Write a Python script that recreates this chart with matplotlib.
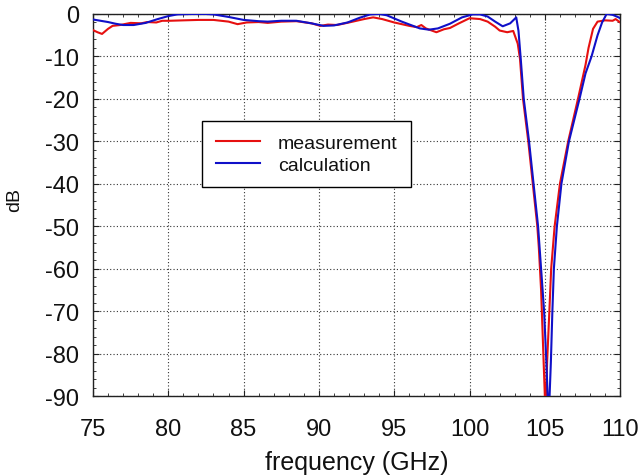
import matplotlib
matplotlib.use("Agg")
import matplotlib.pyplot as plt
from matplotlib.ticker import MultipleLocator

plt.rcParams['font.family'] = ['Liberation Sans', 'DejaVu Sans']
plt.rcParams['axes.unicode_minus'] = False

# Measured transmission (GHz, dB)
meas_freq = [75.0, 75.3, 75.6, 76.0, 76.3, 76.8, 77.5, 78.2, 78.6, 79.2, 79.6, 80.1,
             81.0, 82.0, 83.0, 84.0, 84.6, 85.2, 86.0, 86.6, 87.5, 88.5, 89.5, 90.1,
             90.6, 91.2, 92.0, 93.0, 93.6, 94.2, 95.0, 96.0, 96.5, 96.8, 97.1, 97.8,
             98.3, 98.7, 99.3, 100.0, 100.7, 101.2, 101.7, 102.0, 102.5, 102.9, 103.2,
             103.35, 103.55, 103.9, 104.2, 104.5, 104.6, 104.75, 104.85, 104.95, 105.05,
             105.15, 105.3, 105.42, 105.65, 106.0, 106.55, 107.2, 107.7, 107.9, 108.2,
             108.5, 109.0, 109.5, 109.7, 110.0]
meas_db = [-3.8, -4.3, -4.7, -3.5, -2.8, -2.6, -2.1, -2.2, -1.9, -2.0, -1.6, -1.6,
           -1.5, -1.4, -1.4, -1.8, -2.4, -2.0, -1.9, -2.1, -1.8, -1.7, -2.2, -2.8,
           -2.5, -2.6, -2.0, -1.2, -0.8, -1.2, -2.0, -2.8, -3.1, -2.6, -3.4, -4.3,
           -3.6, -3.3, -2.2, -1.0, -1.2, -1.8, -3.0, -3.9, -4.3, -4.0, -7.0,
           -10.6, -20.0, -30.0, -40.0, -50.0, -55.0, -65.0, -75.0, -85.0, -95.0,
           -82.0, -70.0, -60.0, -50.0, -40.0, -30.0, -20.0, -12.0, -8.0, -3.5,
           -1.8, -1.5, -1.6, -1.2, -2.0]

# Calculated transmission (GHz, dB)
calc_freq = [75.0, 75.5, 76.0, 76.5, 77.0, 77.7, 78.5, 79.3, 80.0, 80.6, 81.5, 82.5,
             83.0, 84.0, 85.0, 86.0, 86.6, 87.5, 88.5, 89.5, 90.3, 91.0, 91.9, 92.7,
             93.4, 94.0, 94.5, 95.5, 96.7, 97.3, 97.9, 98.7, 99.5, 100.2, 100.7, 101.2,
             101.7, 102.2, 102.7, 103.1, 103.25, 103.4, 103.6, 103.95, 104.25, 104.55,
             104.75, 104.95, 105.1, 105.25, 105.4, 105.5, 105.6, 105.8, 106.1, 106.6,
             107.3, 107.7, 108.1, 108.5, 108.8, 109.1, 109.5, 109.9, 110.0]
calc_db = [-1.3, -1.6, -1.9, -2.3, -2.6, -2.6, -2.1, -1.2, -0.5, -0.1, 0.0, 0.0,
           -0.1, -0.7, -1.4, -1.7, -1.8, -1.6, -1.6, -2.2, -2.8, -2.7, -2.0, -0.9,
           -0.1, 0.0, -0.3, -1.8, -3.4, -3.7, -3.4, -2.3, -0.8, -0.1, -0.1, -0.6,
           -1.8, -2.9, -2.2, -0.8, -4.0, -10.6, -20.0, -30.0, -40.0, -50.0,
           -60.0, -70.0, -82.0, -96.0, -82.0, -70.0, -60.0, -50.0, -40.0, -30.0,
           -20.0, -14.0, -10.0, -5.0, -2.0, 0.0, -0.2, -0.8, -1.0]

x_ticks = [75, 80, 85, 90, 95, 100, 105, 110]
y_ticks = [0, -10, -20, -30, -40, -50, -60, -70, -80, -90]

fig = plt.figure(figsize=(6.40, 4.77), dpi=100)
ax = fig.add_axes([0.1453, 0.1677, 0.8237, 0.8009])

ax.plot(meas_freq, meas_db, color='#e61010', lw=1.5, label='measurement', zorder=3)
ax.plot(calc_freq, calc_db, color='#1010c8', lw=1.5, label='calculation', zorder=4)

ax.set_xlim(75, 110)
ax.set_ylim(-90, 0)
ax.set_xticks(x_ticks)
ax.set_yticks(y_ticks)
ax.set_yticklabels([str(v) for v in y_ticks])
ax.xaxis.set_minor_locator(MultipleLocator(1))
ax.yaxis.set_minor_locator(MultipleLocator(2))
ax.tick_params(which='both', direction='in', top=True, right=True,
               labelsize=17, color='#222222', labelcolor='#111111')
ax.tick_params(which='major', length=4, width=0.8)
ax.tick_params(which='minor', length=2.5, width=0.6)
ax.tick_params(axis='x', which='major', pad=16)
ax.tick_params(axis='y', which='major', pad=10)
ax.grid(True, which='major', color='#333333', linestyle=(0, (1, 2)), linewidth=0.8)
for s in ax.spines.values():
    s.set_linewidth(1.0)
    s.set_color('#222222')

ax.set_xlabel('frequency (GHz)', fontsize=18, labelpad=7, color='#111111')
ax.set_ylabel('dB', fontsize=14, color='#111111')
ax.yaxis.set_label_coords(-0.132, 0.515)

leg = ax.legend(loc='upper left', bbox_to_anchor=(0.207, 0.72), fontsize=14,
                frameon=True, fancybox=False, edgecolor='black', framealpha=1,
                handlelength=2.3, handletextpad=0.9, borderpad=0.7,
                labelspacing=0.2, borderaxespad=0)
leg.get_frame().set_linewidth(1.0)
for t in leg.get_texts():
    t.set_color('#111111')

fig.savefig('out.png', dpi=100)
